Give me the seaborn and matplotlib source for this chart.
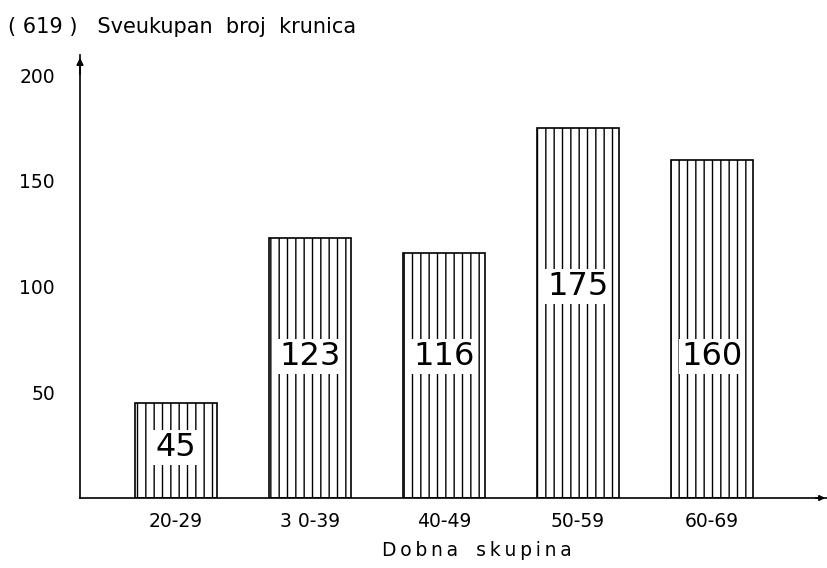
import matplotlib
matplotlib.use("Agg")
import matplotlib.pyplot as plt
import seaborn as sns

# podaci sa slike
dobne_skupine = ["20-29", "3 0-39", "40-49", "50-59", "60-69"]
broj_krunica = [45, 123, 116, 175, 160]
ukupno = 619

sns.set_style("white")
plt.rcParams["font.family"] = ["DejaVu Sans"]
plt.rcParams["hatch.linewidth"] = 1.0
plt.rcParams["text.color"] = "black"
plt.rcParams["xtick.color"] = "black"
plt.rcParams["ytick.color"] = "black"
plt.rcParams["axes.edgecolor"] = "black"

fig = plt.figure(figsize=(8.28, 5.68), dpi=100)
ax = fig.add_axes([80 / 828, 1 - 498 / 568, 1 - 80 / 828, 443 / 568])

sns.barplot(x=dobne_skupine, y=broj_krunica, order=dobne_skupine, color="white",
            edgecolor="black", linewidth=1.2, hatch="||", width=0.61, ax=ax)

# brojevi upisani u stupce (visina na kojoj je broj napisan)
visina_natpisa = [24, 67, 67, 100, 67]
for i, (v, h) in enumerate(zip(broj_krunica, visina_natpisa)):
    ax.text(i, h, str(v), ha="center", va="center", fontsize=23,
            bbox=dict(facecolor="white", edgecolor="none", pad=1.5))

ax.set_xlim(-0.716, 4.866)
ax.set_ylim(0, 209.5)
ax.set_yticks([50, 100, 150, 200])
ax.tick_params(axis="y", direction="out", length=4, width=1.2, pad=14, labelsize=13.5)
ax.tick_params(axis="x", length=0, pad=10, labelsize=13.5)

sns.despine(ax=ax)
for s in ["left", "bottom"]:
    ax.spines[s].set_linewidth(1.2)
ax.set_xlabel("")
ax.set_ylabel("")

# strelice na osima
ax.annotate("", xy=(0, 1.0), xytext=(0, 0.95), xycoords="axes fraction",
            arrowprops=dict(arrowstyle="-|>", color="black", lw=1.2, mutation_scale=10))
ax.annotate("", xy=(1.0, 0), xytext=(0.98, 0), xycoords="axes fraction",
            arrowprops=dict(arrowstyle="-|>", color="black", lw=1.2, mutation_scale=8))

fig.text(8 / 828, 1 - 27 / 568, f"( {ukupno} )   Sveukupan  broj  krunica",
         fontsize=15, va="center", ha="left")
ts = "\u2009"
oznaka_x = "   ".join(ts.join(r) for r in ["Dobna", "skupina"])
fig.text(477 / 828, 1 - 551 / 568, oznaka_x,
         fontsize=13.5, va="center", ha="center")

fig.savefig("out.png", dpi=100, facecolor="white")
